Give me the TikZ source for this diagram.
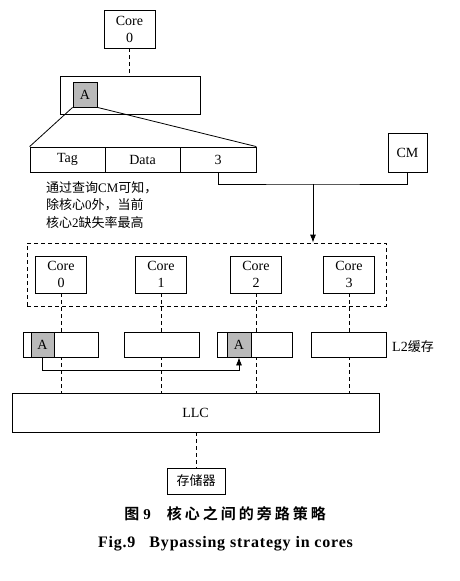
\documentclass[tikz,border=0pt]{standalone}
\usepackage{fontspec}
\setmainfont{Liberation Serif}
\newfontfamily\cjk{Noto Sans CJK SC}[BoldFont={Noto Sans CJK SC Bold}]
\usetikzlibrary{arrows.meta}
\begin{document}
\begin{tikzpicture}[x=1pt,y=-1pt,
  box/.style={draw,line width=0.8pt,fill=white,inner sep=0pt,font=\fontsize{14}{17}\selectfont,align=center},
  abox/.style={box,fill=gray!55},
  dline/.style={line width=0.8pt,dash pattern=on 4pt off 3pt},
  conn/.style={line width=0.8pt},
  arr/.style={line width=0.8pt,-{Latex[length=8pt,width=6pt]}}]
\useasboundingbox (0,0) rectangle (460,581);
% top core and cache
\node[box,minimum width=51pt,minimum height=38pt] (tcore) at (129.5,29) {Core\\0};
\node[box,minimum width=140pt,minimum height=38pt] (tcache) at (130,95) {};
\node[abox,minimum width=24pt,minimum height=25pt] (ta) at (85,94.5) {A};
\draw[dline] (tcore.south) -- (tcore.south |- tcache.north);
% entry row
\node[box,minimum width=75pt,minimum height=25pt] (tag) at (67.5,159.5) {Tag};
\node[box,minimum width=75pt,minimum height=25pt] (data) at (142.5,159.5) {Data};
\node[box,minimum width=76pt,minimum height=25pt] (three) at (218,159.5) {3};
\draw[conn] (ta.south west) -- (tag.north west);
\draw[conn] (ta.south east) -- (three.north east);
% CM
\node[box,minimum width=39pt,minimum height=39pt] (cm) at (407.5,152.5) {CM};
\coordinate (j) at (313,184);
\draw[conn] (three.south) |- (j) -| (cm.south);
% note
\node[anchor=north west,align=left,inner sep=0pt,font=\fontsize{13}{17.5}\selectfont] (note) at (46,181)
 {{\cjk 通过查询}CM{\cjk 可知，}\\{\cjk 除核心}0{\cjk 外，当前}\\{\cjk 核心}2{\cjk 缺失率最高}};
% dashed group of cores
\node[draw,dline,minimum width=359pt,minimum height=63pt,inner sep=0pt] (grp) at (206.5,274.5) {};
\draw[arr] (j) -- (j |- grp.north);
\node[box,minimum width=51pt,minimum height=37pt] (c0) at (61,274.5) {Core\\0};
\node[box,minimum width=51pt,minimum height=37pt] (c1) at (161,274.5) {Core\\1};
\node[box,minimum width=51pt,minimum height=37pt] (c2) at (256,274.5) {Core\\2};
\node[box,minimum width=51pt,minimum height=37pt] (c3) at (349,274.5) {Core\\3};
% LLC
\node[box,minimum width=367pt,minimum height=39pt] (llc) at (195.5,412.5) {LLC};
\draw[dline] (c0.south) -- (c0.south |- llc.north);
\draw[dline] (c1.south) -- (c1.south |- llc.north);
\draw[dline] (c2.south) -- (c2.south |- llc.north);
\draw[dline] (c3.south) -- (c3.south |- llc.north);
% L2 caches
\node[box,minimum width=75pt,minimum height=25pt] (l0) at (60.5,344.5) {};
\node[box,minimum width=75pt,minimum height=25pt] (l1) at (161.5,344.5) {};
\node[box,minimum width=75pt,minimum height=25pt] (l2) at (254.5,344.5) {};
\node[box,minimum width=75pt,minimum height=25pt] (l3) at (348.5,344.5) {};
\node[abox,minimum width=23pt,minimum height=25pt] (a0) at (42.5,344.5) {A};
\node[abox,minimum width=24pt,minimum height=25pt] (a2) at (239,344.5) {A};
\node[anchor=west,inner sep=0pt,font=\fontsize{14}{17}\selectfont] (l2lab) at (392,347) {L2{\cjk\fontsize{13}{15}\selectfont 缓存}};
\coordinate (b) at (42.5,370);
\draw[arr] (a0.south) -- (b) -| (a2.south);
% memory
\node[box,minimum width=58pt,minimum height=26pt,font=\cjk\fontsize{13}{15}\selectfont] (mem) at (196,481) {存储器};
\draw[dline] (mem.north |- llc.south) -- (mem.north);
% captions
\node[inner sep=0pt,font=\fontsize{15}{18}\selectfont\bfseries] (cap1) at (225,514)
 {{\cjk 图}\hspace{4pt}9\hspace{16pt}{\cjk\addfontfeature{LetterSpace=20}核心之间的旁路策略}};
\node[inner sep=0pt,font=\fontsize{16}{19}\selectfont\bfseries\addfontfeature{LetterSpace=5}] (cap2) at (225.5,544)
 {Fig.9\hspace{14pt}Bypassing strategy in cores};
\end{tikzpicture}
\end{document}
